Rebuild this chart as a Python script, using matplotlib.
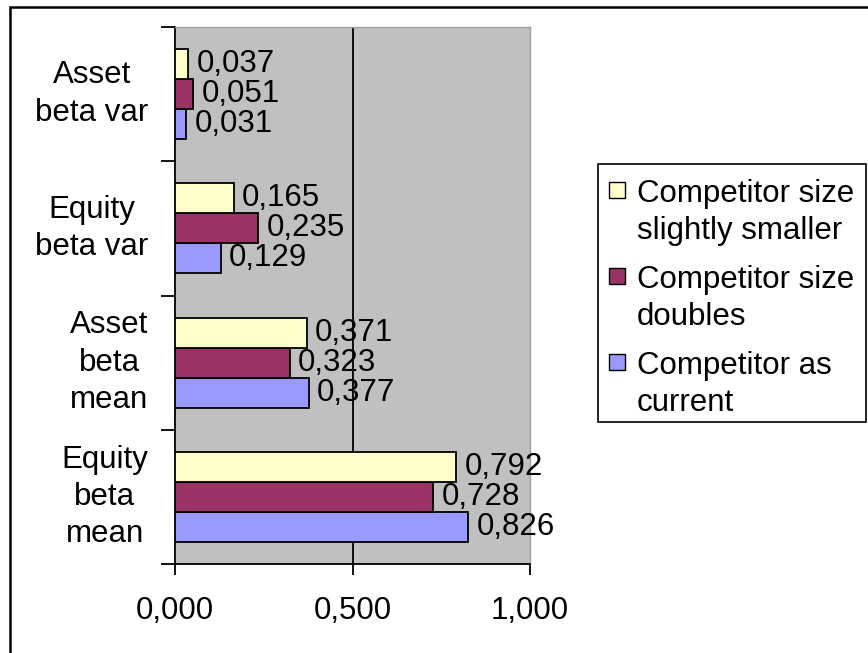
import matplotlib
matplotlib.use("Agg")
import matplotlib.pyplot as plt
from matplotlib.patches import Rectangle
import numpy as np

plt.rcParams['font.family'] = ['Liberation Sans', 'DejaVu Sans']
FS = 22.5

categories = ["Equity\nbeta\nmean", "Asset\nbeta\nmean", "Equity\nbeta var", "Asset\nbeta var"]
as_current = [0.826, 0.377, 0.129, 0.031]
size_doubles = [0.728, 0.323, 0.235, 0.051]
slightly_smaller = [0.792, 0.371, 0.165, 0.037]

series_names = ["Competitor as\ncurrent", "Competitor size\ndoubles", "Competitor size\nslightly smaller"]
series_vals = [as_current, size_doubles, slightly_smaller]
colors = ["#9999FF", "#993366", "#FFFFCC"]

W, H = 868, 653
fig = plt.figure(figsize=(W / 100, H / 100), dpi=100)


def fx(px):
    return px / W


def fy(py):
    return 1 - py / H


ax = fig.add_axes([fx(175), fy(564), fx(530) - fx(175), fy(27) - fy(564)])
ax.set_facecolor("#C0C0C0")

y = np.arange(len(categories))
h = 0.224
for i, (vals, col) in enumerate(zip(series_vals, colors)):
    pos = y + (i - 1) * h
    ax.barh(pos, vals, height=h, color=col, edgecolor="black", linewidth=1.3, zorder=3)
    for p, v in zip(pos, vals):
        ax.annotate(f"{v:.3f}".replace(".", ","), (v, p), xytext=(6, 0),
                    textcoords="offset points", va="center", ha="left",
                    fontsize=FS, zorder=4)

ax.axvline(0.5, color="black", linewidth=1.3, zorder=2)

ax.set_xlim(0, 1)
ax.set_ylim(-0.5, len(categories) - 0.5)
ax.set_xticks([0, 0.5, 1.0])
ax.set_xticklabels(["0,000", "0,500", "1,000"], fontsize=FS)
ax.set_yticks(np.arange(-0.5, len(categories), 1.0))
ax.set_yticklabels([])
ax.tick_params(axis="x", direction="out", length=8, width=1.3, pad=15)
ax.tick_params(axis="y", direction="out", length=10, width=1.3)

for s in ("top", "right"):
    ax.spines[s].set_color("#A0A0A0")
    ax.spines[s].set_linewidth(1.0)
for s in ("left", "bottom"):
    ax.spines[s].set_linewidth(1.3)

for yy, lab in zip(y, categories):
    ax.text(-0.075, yy, lab, transform=ax.get_yaxis_transform(), ha="right",
            va="center", multialignment="center", fontsize=FS, linespacing=1.32)

# outer chart border
fig.patches.append(Rectangle((fx(9.5), fy(660)), fx(880) - fx(9.5), fy(6.5) - fy(660),
                             transform=fig.transFigure, fill=False,
                             edgecolor="black", linewidth=1.8))

# legend box
fig.patches.append(Rectangle((fx(598), fy(422)), fx(866) - fx(598), fy(164) - fy(422),
                             transform=fig.transFigure, facecolor="white",
                             edgecolor="black", linewidth=1.2))
base = 202
for name, col in zip(series_names[::-1], colors[::-1]):
    fig.patches.append(Rectangle((fx(609), fy(base - 4)), fx(16), fx(16) * W / H,
                                 transform=fig.transFigure, facecolor=col,
                                 edgecolor="black", linewidth=1.0))
    for k, line in enumerate(name.split("\n")):
        fig.text(fx(637), fy(base + 37 * k), line, fontsize=FS, va="baseline", ha="left")
    base += 86

fig.savefig("out.png", dpi=100)
